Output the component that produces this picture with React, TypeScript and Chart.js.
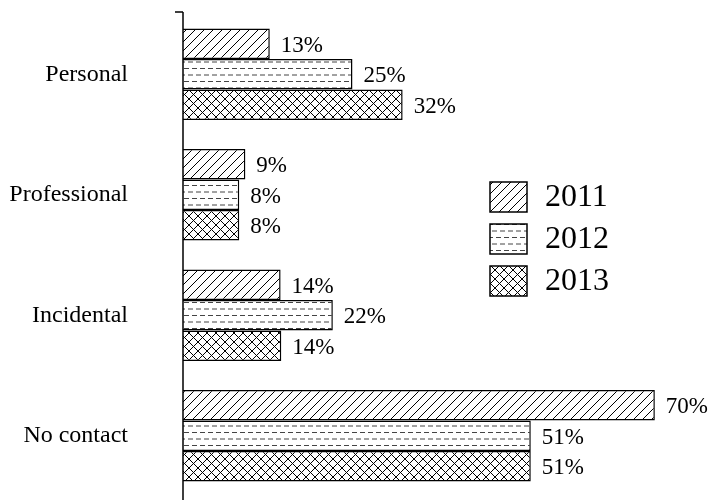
import React, { useEffect, useRef } from "react";
import { Chart, registerables } from "chart.js";

Chart.register(...registerables);

const categories = ["Personal", "Professional", "Incidental", "No contact"];
const seriesNames = ["2011", "2012", "2013"];
const values2011 = [12.8, 9.2, 14.4, 69.6];
const values2012 = [25.0, 8.3, 22.1, 51.3];
const values2013 = [32.4, 8.3, 14.5, 51.3];
const labels2011 = ["13%", "9%", "14%", "70%"];
const labels2012 = ["25%", "8%", "22%", "51%"];
const labels2013 = ["32%", "8%", "14%", "51%"];

const FONT = '"Liberation Serif", "Times New Roman", serif';

function makePattern(kind: string): CanvasPattern | string {
  const c = document.createElement("canvas");
  let w = 9, h = 9;
  if (kind === "dash") { w = 8; h = 13; }
  c.width = w; c.height = h;
  const ctx = c.getContext("2d")!;
  ctx.fillStyle = "#fff";
  ctx.fillRect(0, 0, w, h);
  ctx.strokeStyle = "#000";
  ctx.lineWidth = 1;
  if (kind === "diag" || kind === "cross") {
    ctx.beginPath();
    for (let o = -w; o <= w; o += w) {
      ctx.moveTo(o, h); ctx.lineTo(o + w, 0);
    }
    if (kind === "cross") {
      for (let o = -w; o <= w; o += w) {
        ctx.moveTo(o, 0); ctx.lineTo(o + w, h);
      }
    }
    ctx.stroke();
  } else {
    ctx.strokeStyle = "#444";
    ctx.beginPath();
    ctx.moveTo(0, 3.5); ctx.lineTo(5, 3.5);
    ctx.moveTo(4, 10); ctx.lineTo(8, 10);
    ctx.moveTo(0, 10); ctx.lineTo(1, 10);
    ctx.stroke();
  }
  return ctx.createPattern(c, "repeat")!;
}

export default function App() {
  const ref = useRef<HTMLCanvasElement>(null);
  useEffect(() => {
    const canvas = ref.current!;
    const pats = [makePattern("diag"), makePattern("dash"), makePattern("cross")];
    const allLabels = [labels2011, labels2012, labels2013];

    const overlay = {
      id: "overlay",
      afterDatasetsDraw(chart: any) {
        const ctx = chart.ctx;
        ctx.save();
        ctx.font = `23px ${FONT}`;
        ctx.fillStyle = "#000";
        ctx.textBaseline = "middle";
        ctx.textAlign = "left";
        chart.data.datasets.forEach((ds: any, i: number) => {
          const meta = chart.getDatasetMeta(i);
          meta.data.forEach((bar: any, j: number) => {
            ctx.fillText(allLabels[i][j], bar.x + 11, bar.y + 2);
          });
        });
        // axis line & top tick
        const area = chart.chartArea;
        ctx.strokeStyle = "#000";
        ctx.lineWidth = 1.5;
        ctx.beginPath();
        ctx.moveTo(area.left, 12);
        ctx.lineTo(area.left, 500);
        ctx.moveTo(area.left - 8, 12);
        ctx.lineTo(area.left, 12);
        ctx.stroke();
        // legend
        const rows = [182, 224, 266];
        ctx.font = `32px ${FONT}`;
        rows.forEach((top, i) => {
          ctx.fillStyle = pats[i] as any;
          ctx.fillRect(490, top, 37, 30);
          ctx.lineWidth = 1.5;
          ctx.strokeRect(490, top, 37, 30);
          ctx.fillStyle = "#000";
          ctx.fillText(seriesNames[i], 545, top + 16);
        });
        ctx.restore();
      },
    };

    const chart = new Chart(canvas, {
      type: "bar",
      data: {
        labels: categories,
        datasets: [values2011, values2012, values2013].map((v, i) => ({
          label: seriesNames[i],
          data: v,
          backgroundColor: pats[i] as any,
          borderColor: "#000",
          borderWidth: 1.5,
          barPercentage: 1.0,
          categoryPercentage: 0.76,
        })),
      },
      options: {
        indexAxis: "y",
        animation: false,
        responsive: false,
        maintainAspectRatio: false,
        layout: { padding: { top: 14, bottom: 4, left: 0, right: 8 } },
        plugins: { legend: { display: false }, tooltip: { enabled: false } },
        scales: {
          x: { display: false, min: 0, max: 77 },
          y: {
            grid: { display: false, drawTicks: false },
            border: { display: false },
            ticks: {
              color: "#000",
              padding: 55,
              font: { family: FONT, size: 24 },
            },
            afterFit: (s: any) => {
              s.width = 183;
              s.paddingTop = 0;
              s.paddingBottom = 0;
            },
          },
        },
      },
      plugins: [overlay],
    });
    return () => chart.destroy();
  }, []);
  return (
    <div style={{ position: "fixed", left: 0, top: 0, width: 713, height: 500, background: "#fff" }}>
      <canvas ref={ref} width={713} height={500} style={{ width: 713, height: 500 }} />
    </div>
  );
}
